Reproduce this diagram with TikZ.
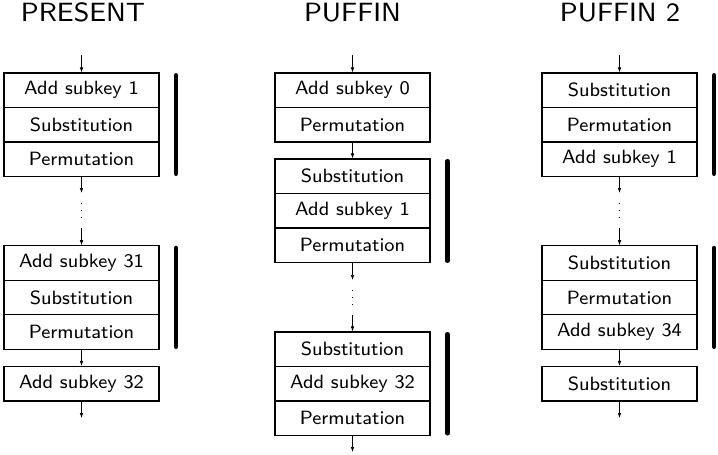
\documentclass[tikz,border=0pt]{standalone}
\usepackage{fontspec}
\usepackage{graphicx}
\usetikzlibrary{arrows.meta}
\newcommand{\rowtxt}[1]{\scalebox{2.4}{\fontsize{8}{9.6}\selectfont\sffamily\addfontfeatures{FakeBold=3,LetterSpace=4}#1}}
\newcommand{\ttltxt}[1]{\scalebox{3.3}{\fontsize{8}{9.6}\selectfont\sffamily\addfontfeatures{FakeBold=3,LetterSpace=4}#1}}
\begin{document}
\begin{tikzpicture}[x=1pt,y=-1pt,
  rowbox/.style={draw,line width=1.1pt,minimum width=155pt,minimum height=34.5pt,inner sep=0pt},
  titletext/.style={anchor=base,inner sep=0pt},
  flow/.style={line width=0.7pt,-{Latex[length=5pt,width=3.6pt]}},
  dotline/.style={line width=0.8pt,dash pattern=on 1.3pt off 5.7pt},
  groupbar/.style={line width=4.5pt,line cap=round}]
\useasboundingbox (0,0) rectangle (718,455);
% titles
\node[titletext] (tA) at (83,21.7) {\ttltxt{PRESENT}};
\node[titletext] (tB) at (352.5,21.7) {\ttltxt{PUFFIN}};
\node[titletext] (tC) at (620,21.7) {\ttltxt{PUFFIN 2}};
% ---------- PRESENT ----------
\node[rowbox] (a1) at (81.5,90.25) {\rowtxt{Add subkey 1}};
\node[rowbox] (a2) at (81.5,124.75) {\rowtxt{Substitution}};
\node[rowbox] (a3) at (81.5,159.25) {\rowtxt{Permutation}};
\node[rowbox] (a4) at (81.5,263) {\rowtxt{Add subkey 31}};
\node[rowbox] (a5) at (81.5,297.5) {\rowtxt{Substitution}};
\node[rowbox] (a6) at (81.5,332) {\rowtxt{Permutation}};
\node[rowbox] (a7) at (81.5,383.75) {\rowtxt{Add subkey 32}};
\coordinate (aIn) at (81.5,55);
\coordinate (aD1) at (81.5,193);
\coordinate (aD2) at (81.5,203);
\coordinate (aD3) at (81.5,221);
\coordinate (aD4) at (81.5,228);
\coordinate (aOut) at (81.5,418);
\draw[flow] (aIn) -- (a1);
\draw[flow] (a3) -- (aD1);
\draw[dotline] (aD2) -- (aD3);
\draw[flow] (aD4) -- (a4);
\draw[flow] (a6) -- (a7);
\draw[flow] (a7) -- (aOut);
\coordinate (aB1) at (176,75.25);
\coordinate (aB2) at (176,173.75);
\coordinate (aB3) at (176,248);
\coordinate (aB4) at (176,346.75);
\draw[groupbar] (aB1) -- (aB2);
\draw[groupbar] (aB3) -- (aB4);
% ---------- PUFFIN ----------
\node[rowbox] (b1) at (352.5,90.25) {\rowtxt{Add subkey 0}};
\node[rowbox] (b2) at (352.5,124.75) {\rowtxt{Permutation}};
\node[rowbox] (b3) at (352.5,176.25) {\rowtxt{Substitution}};
\node[rowbox] (b4) at (352.5,210.75) {\rowtxt{Add subkey 1}};
\node[rowbox] (b5) at (352.5,245.25) {\rowtxt{Permutation}};
\node[rowbox] (b6) at (352.5,349.25) {\rowtxt{Substitution}};
\node[rowbox] (b7) at (352.5,383.75) {\rowtxt{Add subkey 32}};
\node[rowbox] (b8) at (352.5,418.25) {\rowtxt{Permutation}};
\coordinate (bIn) at (352.5,55);
\coordinate (bD1) at (352.5,280);
\coordinate (bD2) at (352.5,290);
\coordinate (bD3) at (352.5,308);
\coordinate (bD4) at (352.5,315);
\coordinate (bOut) at (352.5,452);
\draw[flow] (bIn) -- (b1);
\draw[flow] (b2) -- (b3);
\draw[flow] (b5) -- (bD1);
\draw[dotline] (bD2) -- (bD3);
\draw[flow] (bD4) -- (b6);
\draw[flow] (b8) -- (bOut);
\coordinate (bB1) at (447.5,161.25);
\coordinate (bB2) at (447.5,260.75);
\coordinate (bB3) at (447.5,334.25);
\coordinate (bB4) at (447.5,433.25);
\draw[groupbar] (bB1) -- (bB2);
\draw[groupbar] (bB3) -- (bB4);
% ---------- PUFFIN 2 ----------
\node[rowbox] (c1) at (619.5,90.25) {\rowtxt{Substitution}};
\node[rowbox] (c2) at (619.5,124.75) {\rowtxt{Permutation}};
\node[rowbox] (c3) at (619.5,159.25) {\rowtxt{Add subkey 1}};
\node[rowbox] (c4) at (619.5,263) {\rowtxt{Substitution}};
\node[rowbox] (c5) at (619.5,297.5) {\rowtxt{Permutation}};
\node[rowbox] (c6) at (619.5,332) {\rowtxt{Add subkey 34}};
\node[rowbox] (c7) at (619.5,383.75) {\rowtxt{Substitution}};
\coordinate (cIn) at (619.5,55);
\coordinate (cD1) at (619.5,193);
\coordinate (cD2) at (619.5,203);
\coordinate (cD3) at (619.5,221);
\coordinate (cD4) at (619.5,228);
\coordinate (cOut) at (619.5,418);
\draw[flow] (cIn) -- (c1);
\draw[flow] (c3) -- (cD1);
\draw[dotline] (cD2) -- (cD3);
\draw[flow] (cD4) -- (c4);
\draw[flow] (c6) -- (c7);
\draw[flow] (c7) -- (cOut);
\coordinate (cB1) at (714,75.25);
\coordinate (cB2) at (714,173.75);
\coordinate (cB3) at (714,248);
\coordinate (cB4) at (714,346.75);
\draw[groupbar] (cB1) -- (cB2);
\draw[groupbar] (cB3) -- (cB4);
\end{tikzpicture}
\end{document}
